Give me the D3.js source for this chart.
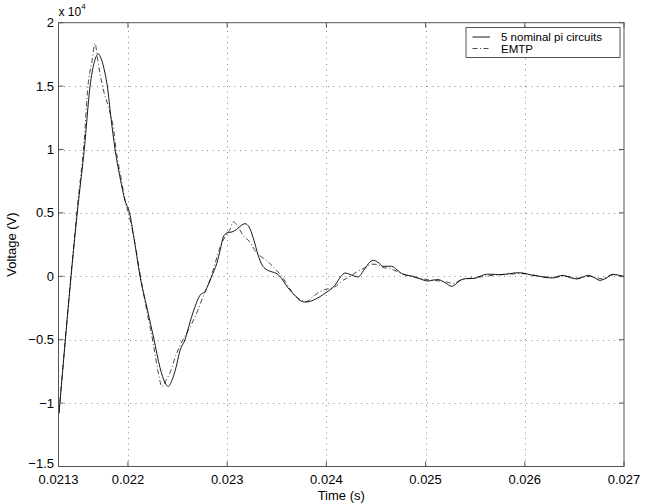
<html>
<head>
<script src="https://d3js.org/d3.v7.min.js"></script>
<style>
body { margin: 0; background: #fff; }
text { font-family: Arial, 'Liberation Sans', Helvetica, sans-serif; fill: #000; }
line.grid { stroke: #888; stroke-dasharray: 1,4.5; }
</style>
</head>
<body>
<div id="plot"></div>
<script>

// 5 nominal pi circuits (time in s, voltage in V)
var piTime = [0.021305, 0.021500, 0.021560, 0.021618, 0.021658, 0.021701, 0.021728, 0.021769, 0.021792, 0.021829,
  0.021870, 0.021920, 0.021970, 0.022016, 0.022061, 0.022122, 0.022192, 0.022263, 0.022323, 0.022374,
  0.022407, 0.022444, 0.022484, 0.022525, 0.022575, 0.022626, 0.022676, 0.022726, 0.022777, 0.022807,
  0.022844, 0.022895, 0.022928, 0.022961, 0.022998, 0.023049, 0.023096, 0.023140, 0.023180, 0.023220,
  0.023264, 0.023311, 0.023351, 0.023392, 0.023452, 0.023502, 0.023550, 0.023593, 0.023634, 0.023694,
  0.023734, 0.023785, 0.023865, 0.023936, 0.024006, 0.024087, 0.024148, 0.024188, 0.024238, 0.024289,
  0.024319, 0.024379, 0.024440, 0.024470, 0.024521, 0.024571, 0.024659, 0.024712, 0.024773, 0.024873,
  0.024944, 0.025025, 0.025075, 0.025125, 0.025196, 0.025263, 0.025307, 0.025347, 0.025415, 0.025481,
  0.025549, 0.025616, 0.025680, 0.025750, 0.025851, 0.025922, 0.025982, 0.026063, 0.026154, 0.026214,
  0.026285, 0.026335, 0.026385, 0.026456, 0.026526, 0.026587, 0.026637, 0.026698, 0.026758, 0.026819,
  0.026889, 0.026940, 0.027000];
var piVolt = [-10800, 5800, 10000, 15000, 16800, 17530, 17200, 16000, 15000, 12500,
  10000, 7800, 6000, 5000, 3000, 0, -2500, -5000, -7200, -8400,
  -8680, -8200, -7200, -5850, -5000, -3600, -2400, -1500, -1200, -700,
  0, 1000, 2000, 3100, 3420, 3500, 3700, 4000, 4150, 3900,
  3000, 1700, 900, 550, 350, 200, -180, -700, -1100, -1600,
  -1900, -2030, -1900, -1600, -1240, -700, 0, 260, 150, 0,
  -50, 500, 1130, 1260, 1100, 790, 790, 500, 160, 0,
  -200, -370, -300, -260, -500, -790, -600, -320, -180, -180,
  0, 160, 160, 130, 210, 280, 260, 100, 0, -100,
  -130, 0, 80, -100, -210, -50, 80, -100, -320, -150,
  160, 100, -50];

// EMTP
var emtpTime = [0.021305, 0.021497, 0.021557, 0.021597, 0.021638, 0.021668, 0.021693, 0.021718, 0.021759, 0.021802,
  0.021829, 0.021852, 0.021880, 0.021903, 0.021930, 0.021970, 0.022011, 0.022061, 0.022122, 0.022192,
  0.022253, 0.022303, 0.022343, 0.022384, 0.022424, 0.022484, 0.022555, 0.022626, 0.022693, 0.022757,
  0.022827, 0.022878, 0.022928, 0.022978, 0.023029, 0.023062, 0.023109, 0.023163, 0.023230, 0.023291,
  0.023351, 0.023415, 0.023482, 0.023550, 0.023593, 0.023651, 0.023694, 0.023751, 0.023795, 0.023865,
  0.023936, 0.024006, 0.024070, 0.024171, 0.024238, 0.024306, 0.024407, 0.024450, 0.024500, 0.024571,
  0.024642, 0.024722, 0.024810, 0.024904, 0.025011, 0.025146, 0.025216, 0.025280, 0.025327, 0.025380,
  0.025448, 0.025515, 0.025599, 0.025683, 0.025801, 0.025952, 0.026053, 0.026154, 0.026305, 0.026406,
  0.026537, 0.026658, 0.026778, 0.026879, 0.027000];
var emtpVolt = [-10800, 6000, 10500, 15000, 17000, 18370, 17200, 16000, 14500, 13400,
  12600, 11800, 10000, 8900, 7800, 6000, 4800, 3000, 200, -2800,
  -5200, -7500, -8700, -8200, -7600, -6200, -5000, -4000, -2900, -1600,
  -300, 1000, 2300, 3100, 3700, 4300, 3900, 3200, 2700, 1900,
  1500, 1130, 600, 0, -500, -1200, -1600, -1900, -2000, -1600,
  -1200, -1000, -900, -300, 0, 340, 740, 950, 950, 700,
  600, 350, 80, -100, -260, -370, -450, -580, -400, -260,
  -150, -80, 0, 80, 150, 210, 150, 0, -80, 0,
  -150, 0, -200, 100, 0];

var seriesNames = ["5 nominal pi circuits", "EMTP"];
var xTicks = [0.0213, 0.022, 0.023, 0.024, 0.025, 0.026, 0.027];
var xTickLabels = ["0.0213", "0.022", "0.023", "0.024", "0.025", "0.026", "0.027"];
var yTicks = [-15000, -10000, -5000, 0, 5000, 10000, 15000, 20000];
var yTickLabels = ["\u22121.5", "\u22121", "\u22120.5", "0", "0.5", "1", "1.5", "2"];

var width = 666, height = 504;
var margin = { left: 58.5, right: 42, top: 22.7, bottom: 37.5 };

var svg = d3.select("#plot").append("svg")
.attr("width", width).attr("height", height);

svg.append("rect").attr("width", width).attr("height", height).style("fill", "#fff");

var xScale = d3.scaleLinear().domain([0.0213, 0.027]).range([margin.left, width - margin.right]);
var yScale = d3.scaleLinear().domain([-15000, 20000]).range([height - margin.bottom, margin.top]);

var x0 = xScale.range()[0], x1 = xScale.range()[1];
var y0 = yScale.range()[0], y1 = yScale.range()[1];

// grid
svg.selectAll("line.xgrid").data(xTicks.slice(1, -1)).enter().append("line")
.attr("class", "grid")
.attr("x1", function(d) { return Math.round(xScale(d)) + 0.5; })
.attr("x2", function(d) { return Math.round(xScale(d)) + 0.5; })
.attr("y1", y0).attr("y2", y1);

svg.selectAll("line.ygrid").data(yTicks.slice(1, -1)).enter().append("line")
.attr("class", "grid")
.attr("y1", function(d) { return Math.round(yScale(d)) + 0.5; })
.attr("y2", function(d) { return Math.round(yScale(d)) + 0.5; })
.attr("x1", x0).attr("x2", x1);

// curves
var piData = piTime.map(function(t, i) { return { t: t, v: piVolt[i] }; });
var emtpData = emtpTime.map(function(t, i) { return { t: t, v: emtpVolt[i] }; });

var line = d3.line()
.x(function(d) { return xScale(d.t); })
.y(function(d) { return yScale(d.v); })
.curve(d3.curveMonotoneX);

svg.append("path").datum(emtpData)
.attr("d", line)
.style("fill", "none").style("stroke", "#333").style("stroke-width", 0.9)
.style("stroke-dasharray", "5,2.5,1,2.5");

svg.append("path").datum(piData)
.attr("d", line)
.style("fill", "none").style("stroke", "#000").style("stroke-width", 0.9);

// box and inside ticks
svg.append("rect")
.attr("x", x0).attr("y", y1).attr("width", x1 - x0).attr("height", y0 - y1)
.style("fill", "none").style("stroke", "#555").style("stroke-width", 1);

var tickLen = 5;
xTicks.forEach(function(d) {
  var x = xScale(d);
  svg.append("line").attr("x1", x).attr("x2", x).attr("y1", y0).attr("y2", y0 - tickLen)
  .style("stroke", "#555");
  svg.append("line").attr("x1", x).attr("x2", x).attr("y1", y1).attr("y2", y1 + tickLen)
  .style("stroke", "#555");
});
yTicks.forEach(function(d) {
  var y = yScale(d);
  svg.append("line").attr("y1", y).attr("y2", y).attr("x1", x0).attr("x2", x0 + tickLen)
  .style("stroke", "#555");
  svg.append("line").attr("y1", y).attr("y2", y).attr("x1", x1).attr("x2", x1 - tickLen)
  .style("stroke", "#555");
});

// tick labels
svg.selectAll("text.xlab").data(xTicks).enter().append("text")
.attr("x", function(d) { return xScale(d); })
.attr("y", y0 + 17)
.attr("text-anchor", "middle")
.style("font-size", "13px")
.text(function(d, i) { return xTickLabels[i]; });

// the bottom label sits a little higher so it clears 0.0213
svg.selectAll("text.ylab").data(yTicks).enter().append("text")
.attr("x", x0 - 4.5)
.attr("y", function(d, i) { return yScale(d) + (i === 0 ? 1.5 : 4.5); })
.attr("text-anchor", "end")
.style("font-size", "13px")
.text(function(d, i) { return yTickLabels[i]; });

// exponent
var expo = svg.append("text").attr("x", x0).attr("y", 16).style("font-size", "12px");
expo.append("tspan").text("x 10");
expo.append("tspan").attr("dy", -7).style("font-size", "8px").text("4");

// axis labels
svg.append("text")
.attr("x", (x0 + x1) / 2).attr("y", 500)
.attr("text-anchor", "middle").style("font-size", "13px")
.text("Time (s)");

svg.append("text")
.attr("transform", "translate(16," + ((y0 + y1) / 2) + ") rotate(-90)")
.attr("text-anchor", "middle").style("font-size", "13px")
.text("Voltage (V)");

// legend
var legend = svg.append("g").attr("transform", "translate(466,27.5)");
legend.append("rect").attr("width", 154).attr("height", 30)
.style("fill", "#fff").style("stroke", "#555");
var dashes = [null, "5,2.5,1,2.5"];
seriesNames.forEach(function(name, i) {
  var y = 9.5 + i * 11.5;
  legend.append("line").attr("x1", 6.5).attr("x2", 24).attr("y1", y).attr("y2", y)
  .style("stroke", i ? "#333" : "#000").style("stroke-width", 0.9)
  .style("stroke-dasharray", dashes[i]);
  legend.append("text").attr("x", 35).attr("y", y + 4)
  .style("font-size", "11.5px").text(name);
});

</script>
</body>
</html>
